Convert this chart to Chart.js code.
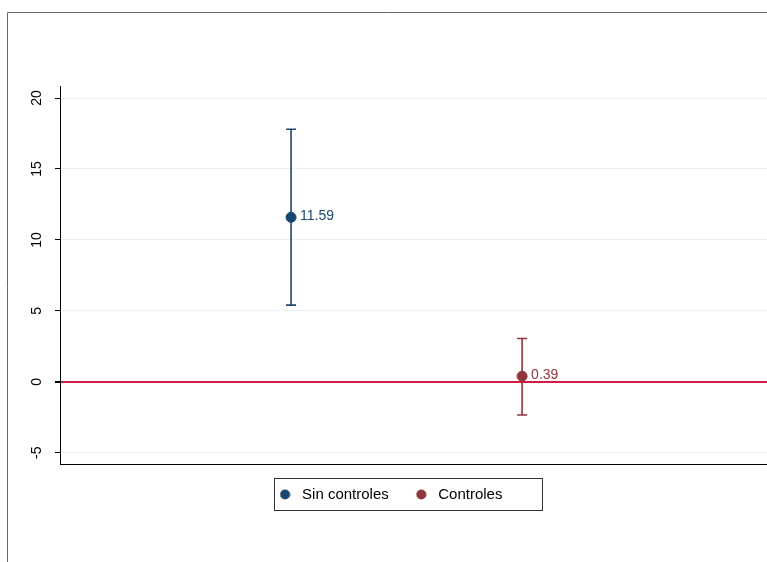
<!DOCTYPE html>
<html>
<head>
<meta charset="utf-8">
<script src="https://cdn.jsdelivr.net/npm/chart.js@4"></script>
<style>
  body { margin: 0; background: #fff; }
  #wrap { width: 767px; height: 562px; }
</style>
</head>
<body>
<div id="wrap"><canvas id="coefChart"></canvas></div>
<script>
// coefficient plot data
const series = ['Sin controles', 'Controles'];
const positions = [1, 2];
const estimates = [11.59, 0.39];
const ciLow = [5.4, -2.35];
const ciHigh = [17.8, 3.05];
const yTicks = [-5, 0, 5, 10, 15, 20];

const seriesColors = ['#1a476f', '#90353b'];
const zeroColor = '#d41a45';
const gridColor = '#e9f0f1';

Chart.defaults.font.family = "'Liberation Sans', Arial, sans-serif";
Chart.defaults.font.size = 14;
Chart.defaults.color = '#000';

// small round marker used in the legend
function dot(color) {
    const c = document.createElement('canvas');
    c.width = 11; c.height = 11;
    const g = c.getContext('2d');
    g.fillStyle = color;
    g.beginPath();
    g.arc(5.5, 5.5, 5, 0, Math.PI * 2);
    g.fill();
    return c;
}

// outer frame
const framePlugin = {
    id: 'frame',
    beforeDraw(chart) {
        const ctx = chart.ctx;
        ctx.save();
        ctx.strokeStyle = '#666';
        ctx.lineWidth = 1;
        ctx.beginPath();
        ctx.moveTo(7.5, chart.height + 5);
        ctx.lineTo(7.5, 12.5);
        ctx.lineTo(chart.width + 5, 12.5);
        ctx.stroke();
        ctx.restore();
    }
};

// confidence interval whiskers + value labels
const errorBarPlugin = {
    id: 'errorBars',
    beforeDatasetsDraw(chart) {
        const ctx = chart.ctx;
        const xs = chart.scales.x, ys = chart.scales.y;
        ctx.save();
        ctx.lineWidth = 1.6;
        positions.forEach(function(p, i) {
            const px = xs.getPixelForValue(p);
            const top = ys.getPixelForValue(ciHigh[i]);
            const bot = ys.getPixelForValue(ciLow[i]);
            ctx.strokeStyle = seriesColors[i];
            ctx.beginPath();
            ctx.moveTo(px, top); ctx.lineTo(px, bot);
            ctx.moveTo(px - 5, top); ctx.lineTo(px + 5, top);
            ctx.moveTo(px - 5, bot); ctx.lineTo(px + 5, bot);
            ctx.stroke();
        });
        ctx.restore();
    },
    afterDatasetsDraw(chart) {
        const ctx = chart.ctx;
        const xs = chart.scales.x, ys = chart.scales.y;
        ctx.save();
        ctx.font = "14px 'Liberation Sans', Arial, sans-serif";
        ctx.textBaseline = 'middle';
        ctx.textAlign = 'left';
        positions.forEach(function(p, i) {
            ctx.fillStyle = seriesColors[i];
            ctx.fillText(estimates[i].toFixed(2), xs.getPixelForValue(p) + 9, ys.getPixelForValue(estimates[i]) - 1);
        });
        ctx.restore();
    }
};

// box around the legend
const legendBoxPlugin = {
    id: 'legendBox',
    afterDraw(chart) {
        const hb = chart.legend.legendHitBoxes;
        if (!hb || !hb.length) return;
        const ctx = chart.ctx;
        const first = hb[0], last = hb[hb.length - 1];
        const cy = first.top + first.height / 2;
        const left = Math.round(first.left) - 1.5;
        const right = Math.round(last.left + last.width) + 40.5;
        ctx.save();
        ctx.strokeStyle = '#333';
        ctx.lineWidth = 1;
        ctx.strokeRect(left, Math.round(cy) - 16.5, right - left, 32);
        ctx.restore();
    }
};

const datasets = series.map(function(name, i) {
    return {
        label: name,
        data: [{ x: positions[i], y: estimates[i] }],
        backgroundColor: seriesColors[i],
        borderColor: seriesColors[i],
        pointRadius: 5,
        pointStyle: 'circle'
    };
});

new Chart(document.getElementById('coefChart'), {
    type: 'scatter',
    data: { datasets: datasets },
    options: {
        responsive: true,
        maintainAspectRatio: false,
        animation: false,
        layout: { autoPadding: false, padding: { top: 86, left: 11, right: 0, bottom: 50 } },
        plugins: {
            tooltip: { enabled: false },
            legend: {
                position: 'bottom',
                labels: {
                    usePointStyle: true,
                    pointStyleWidth: 19,
                    boxHeight: 10,
                    padding: 23,
                    font: { size: 15 },
                    color: '#000',
                    generateLabels(chart) {
                        const items = Chart.defaults.plugins.legend.labels.generateLabels(chart);
                        items.forEach(function(it, i) { it.pointStyle = dot(seriesColors[i]); });
                        return items;
                    }
                }
            }
        },
        scales: {
            x: {
                type: 'linear',
                min: 0,
                max: 3.06,
                ticks: { display: false },
                grid: { display: false, drawTicks: false },
                border: { display: true, color: '#000', width: 1 },
                afterFit(scale) {
                    scale.height = 0;
                    scale.paddingLeft = 0;
                    scale.paddingRight = 0;
                }
            },
            y: {
                min: -5.8,
                max: 20.85,
                afterBuildTicks(scale) {
                    scale.ticks = yTicks.map(function(v) { return { value: v }; });
                },
                ticks: {
                    minRotation: 90,
                    maxRotation: 90,
                    crossAlign: 'center',
                    padding: 10,
                    font: { size: 14 },
                    color: '#000'
                },
                grid: {
                    color: function(c) { return c.tick && c.tick.value === 0 ? zeroColor : gridColor; },
                    lineWidth: function(c) { return c.tick && c.tick.value === 0 ? 2 : 1; },
                    tickColor: '#000',
                    tickLength: 5
                },
                border: { display: true, color: '#000', width: 1 },
                afterFit(scale) {
                    scale.width = 49;
                    scale.paddingLeft = 0;
                    scale.paddingRight = 0;
                }
            }
        }
    },
    plugins: [framePlugin, errorBarPlugin, legendBoxPlugin]
});
</script>
</body>
</html>
